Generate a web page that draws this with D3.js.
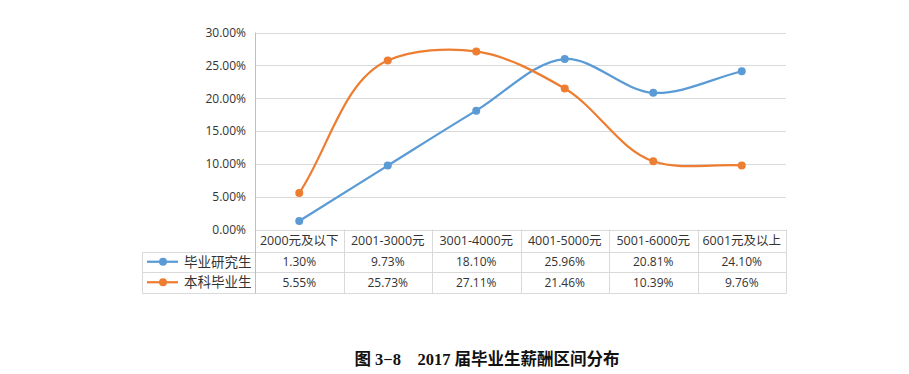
<!DOCTYPE html>
<html><head><meta charset="utf-8">
<script src="https://cdn.jsdelivr.net/npm/d3@7"></script>
<style>
html,body{margin:0;padding:0;background:#fff;}
svg{display:block;}
</style></head>
<body>
<svg id="chart" width="909" height="374"></svg>
<script>
const categories = ["2000元及以下","2001-3000元","3001-4000元","4001-5000元","5001-6000元","6001元及以上"];
const seriesNames = ["毕业研究生","本科毕业生"];
const gradValues = [1.30, 9.73, 18.10, 25.96, 20.81, 24.10];
const underValues = [5.55, 25.73, 27.11, 21.46, 10.39, 9.76];
const yTicks = [0, 5, 10, 15, 20, 25, 30];
const colors = ["#5b9bd5", "#ed7d31"];
const title = "图 3−8　2017 届毕业生薪酬区间分布";

const svg = d3.select("#chart");
const plotL = 255, plotR = 786, plotT = 32.5, plotB = 229.5;
const tableL = 142.5, rowH = 20.5;
const font = "'Open Sans','Noto Sans CJK SC',sans-serif";

const x = d3.scaleBand().domain(categories).range([plotL, plotR]);
const y = d3.scaleLinear().domain([0, 30]).range([plotB, plotT]);

// Office-style smoothed line: chordal Catmull-Rom with reflected end points
function smoothCurve(context) {
  let pts = [];
  const dist = (a, b) => Math.hypot(b[0] - a[0], b[1] - a[1]);
  return {
    areaStart() {}, areaEnd() {},
    lineStart() { pts = []; },
    point(px, py) { pts.push([+px, +py]); },
    lineEnd() {
      const n = pts.length;
      if (!n) return;
      context.moveTo(pts[0][0], pts[0][1]);
      if (n < 2) return;
      const P = [[2 * pts[0][0] - pts[1][0], 2 * pts[0][1] - pts[1][1]], ...pts,
                 [2 * pts[n - 1][0] - pts[n - 2][0], 2 * pts[n - 1][1] - pts[n - 2][1]]];
      for (let i = 1; i < P.length - 2; i++) {
        const p0 = P[i - 1], p1 = P[i], p2 = P[i + 1], p3 = P[i + 2];
        const d01 = dist(p0, p1), d12 = dist(p1, p2), d23 = dist(p2, p3);
        const a = 2 * d01 * d01 + 3 * d01 * d12 + d12 * d12, nn = 3 * d01 * (d01 + d12);
        const b = 2 * d23 * d23 + 3 * d23 * d12 + d12 * d12, m = 3 * d23 * (d23 + d12);
        const c1 = [0, 1].map(k => (p1[k] * a - p0[k] * d12 * d12 + p2[k] * d01 * d01) / nn);
        const c2 = [0, 1].map(k => (p2[k] * b + p1[k] * d23 * d23 - p3[k] * d12 * d12) / m);
        context.bezierCurveTo(c1[0], c1[1], c2[0], c2[1], p2[0], p2[1]);
      }
    }
  };
}

// gridlines
svg.append("g").selectAll("line").data(yTicks).join("line")
  .attr("x1", plotL).attr("x2", plotR)
  .attr("y1", d => Math.round(y(d)) + 0.5).attr("y2", d => Math.round(y(d)) + 0.5)
  .attr("stroke", "#d9d9d9").attr("stroke-width", 1);

// y axis
const yAxis = d3.axisLeft(y).tickValues(yTicks).tickSize(0).tickPadding(9)
  .tickFormat(d => d3.format(".2f")(d) + "%");
const ya = svg.append("g").attr("transform", `translate(${plotL},0)`).call(yAxis);
ya.select(".domain").remove();
ya.selectAll("text").attr("font-family", font).attr("font-size", 12).attr("fill", "#333");

// table
const tb = plotB, r1 = tb + 22, r2 = r1 + rowH, r3 = r2 + rowH;
const tg = svg.append("g").attr("stroke", "#d9d9d9").attr("stroke-width", 1);
[r1, r2, r3].forEach(r => {
  tg.append("line").attr("x1", tableL).attr("x2", plotR).attr("y1", Math.round(r) + 0.5).attr("y2", Math.round(r) + 0.5);
});
tg.append("line").attr("x1", tableL).attr("x2", tableL).attr("y1", Math.round(r1) + 0.5).attr("y2", Math.round(r3) + 0.5);
categories.forEach((c, i) => {
  if (i === 0) return;
  const xx = Math.round(x(c)) + 0.5;
  tg.append("line").attr("x1", xx).attr("x2", xx).attr("y1", tb).attr("y2", Math.round(r3) + 0.5);
});
tg.append("line").attr("x1", plotR + 0.5).attr("x2", plotR + 0.5).attr("y1", tb).attr("y2", Math.round(r3) + 0.5);
svg.append("line").attr("x1", plotL + 0.5).attr("x2", plotL + 0.5).attr("y1", plotT).attr("y2", Math.round(r3) + 0.5)
  .attr("stroke", "#bfbfbf").attr("stroke-width", 1);

// category labels
svg.append("g").selectAll("text").data(categories).join("text")
  .attr("x", d => x(d) + x.bandwidth() / 2).attr("y", (tb + r1) / 2 + 4.5)
  .attr("text-anchor", "middle").attr("font-family", font).attr("font-size", 12.5).attr("fill", "#333")
  .text(d => d);

const allSeries = [gradValues, underValues];
allSeries.forEach((vals, si) => {
  const rowTop = si === 0 ? r1 : r2;
  const cy = rowTop + rowH / 2;
  svg.append("g").selectAll("text").data(vals).join("text")
    .attr("x", (d, i) => x(categories[i]) + x.bandwidth() / 2).attr("y", cy + 4.5)
    .attr("text-anchor", "middle").attr("font-family", font).attr("font-size", 12).attr("fill", "#333")
    .text(d => d3.format(".2f")(d) + "%");
  svg.append("line").attr("x1", 147).attr("x2", 178).attr("y1", cy).attr("y2", cy)
    .attr("stroke", colors[si]).attr("stroke-width", 2.25);
  svg.append("circle").attr("cx", 163).attr("cy", cy).attr("r", 4).attr("fill", colors[si]);
  svg.append("text").attr("x", 184).attr("y", cy + 5).attr("font-family", font)
    .attr("font-size", 13.5).attr("fill", "#333").text(seriesNames[si]);
});

// lines
const line = d3.line().x((d, i) => x(categories[i]) + x.bandwidth() / 2).y(d => y(d))
  .curve(smoothCurve);
allSeries.forEach((vals, si) => {
  svg.append("path").datum(vals).attr("d", line).attr("fill", "none")
    .attr("stroke", colors[si]).attr("stroke-width", 2.25);
  svg.append("g").selectAll("circle").data(vals).join("circle")
    .attr("cx", (d, i) => x(categories[i]) + x.bandwidth() / 2).attr("cy", d => y(d))
    .attr("r", 4).attr("fill", colors[si]);
});

// title
svg.append("text").attr("x", 487).attr("y", 365).attr("text-anchor", "middle")
  .attr("font-family", "'Liberation Serif','Noto Sans CJK SC',serif").attr("font-weight", "bold")
  .attr("font-size", 16.5).attr("fill", "#111").style("white-space", "pre")
  .text(title);
</script>
</body></html>
